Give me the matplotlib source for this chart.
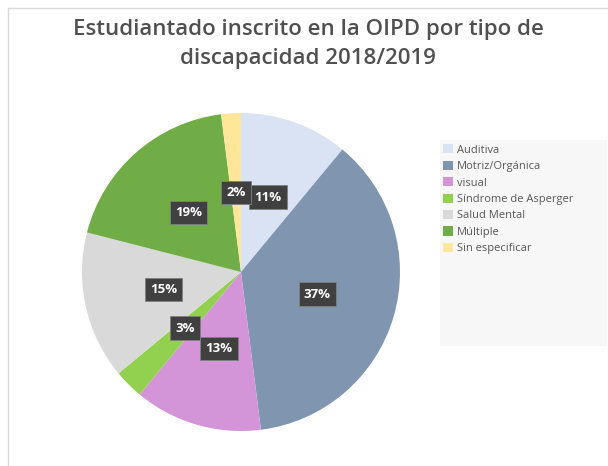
import matplotlib.pyplot as plt
from matplotlib.patches import Rectangle
from matplotlib.lines import Line2D

categorias = ['Auditiva', 'Motriz/Orgánica', 'visual', 'Síndrome de Asperger',
              'Salud Mental', 'Múltiple', 'Sin especificar']
porcentajes = [11, 37, 13, 3, 15, 19, 2]
colores = ['#dae3f3', '#8096b0', '#d395d8', '#92d050', '#d9d9d9', '#70ad47', '#ffe699']

plt.rcParams['font.family'] = ['Open Sans', 'DejaVu Sans']

W, H = 608, 466
fig = plt.figure(figsize=(W / 100, H / 100), dpi=100)

# marco del gráfico (bordes izquierdo y superior visibles)
fig.add_artist(Line2D([8 / W, 8 / W], [0, 1 - 8 / H], color='#d9d9d9', lw=1))
fig.add_artist(Line2D([8 / W, 1], [1 - 8 / H, 1 - 8 / H], color='#d9d9d9', lw=1))

fig.text(308 / W, 1 - 44 / H, 'Estudiantado inscrito en la OIPD por tipo de\ndiscapacidad 2018/2019',
         ha='center', va='center', fontsize=16, fontweight='semibold', color='#505050',
         linespacing=1.5)

ax = fig.add_axes([82 / W, 35 / H, 318 / W, 318 / H])
wedges, texts, autotexts = ax.pie(porcentajes, colors=colores, startangle=90, counterclock=False,
                                  autopct='%d%%', pctdistance=0.5, radius=1,
                                  wedgeprops=dict(linewidth=0))
for t in autotexts:
    t.set_color('white')
    t.set_fontsize(9.5)
    t.set_fontweight('bold')
    t.set_bbox(dict(boxstyle='square,pad=0.4', facecolor='#404040', edgecolor='#808080', lw=0.6))
ax.set_xlim(-1, 1)
ax.set_ylim(-1, 1)

# fondo de la leyenda
fig.add_artist(Rectangle((440 / W, 1 - 346 / H), 167 / W, 206 / H,
                         transform=fig.transFigure, facecolor='#f7f7f7', edgecolor='none'))
leg = fig.legend(wedges, categorias, loc='upper left', bbox_to_anchor=(441 / W, 1 - 142 / H),
                 frameon=False, fontsize=8, handlelength=0.9, handleheight=0.9,
                 handletextpad=0.3, labelspacing=0.45, borderaxespad=0, borderpad=0.2)
for t in leg.get_texts():
    t.set_color('#595959')

fig.savefig('out.png', dpi=100)
